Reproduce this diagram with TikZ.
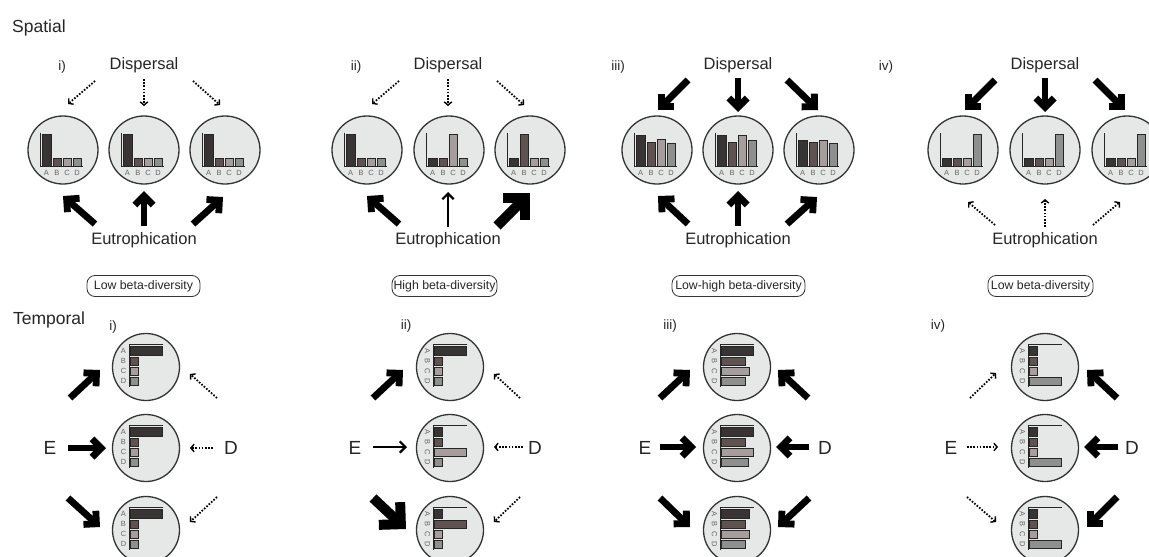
\documentclass[tikz,border=0pt]{standalone}
\usepackage{fontspec}
\setmainfont{Liberation Sans}
\usetikzlibrary{calc,arrows.meta,shapes.geometric}
\definecolor{cA}{HTML}{383434}
\definecolor{cB}{HTML}{5E5351}
\definecolor{cC}{HTML}{A59E9C}
\definecolor{cD}{HTML}{8F8F8F}
\definecolor{cfill}{HTML}{E6E7E7}
\definecolor{cline}{HTML}{333333}
\tikzset{
 scirc/.style={ellipse,draw=cline,fill=cfill,line width=1.3pt,minimum width=70pt,minimum height=68pt,inner sep=0pt},
 tcirc/.style={circle,draw=cline,fill=cfill,line width=1.3pt,minimum size=67pt,inner sep=0pt},
 bar/.style={draw=black!85,line width=0.8pt},
 axisline/.style={draw=black!85,line width=1.1pt},
 blbl/.style={font=\fontsize{7.5}{8}\selectfont,text=black!60,inner sep=0pt},
 bigtxt/.style={font=\fontsize{16.5}{19}\selectfont,text=black!85,inner sep=0pt},
 headtxt/.style={font=\fontsize{17.5}{20}\selectfont,text=black!85,inner sep=0pt},
 numtxt/.style={font=\fontsize{13.5}{15}\selectfont,text=black!85,inner sep=0pt},
 edtxt/.style={font=\fontsize{19}{22}\selectfont,text=black!85,inner sep=0pt},
 dotarrow/.style={line width=1.8pt,dash pattern=on 1.6pt off 1.6pt,-{Straight Barb[length=3.2pt,width=7.5pt,line width=1.4pt]}},
 betabox/.style={draw=black!80,rounded corners=8pt,line width=0.8pt,minimum height=21pt,inner sep=0pt,font=\fontsize{12.3}{14}\selectfont,text=black!85},
}
\newcommand\schart[6]{%
\begin{scope}[shift={(#1,#2)}]
\filldraw[bar,fill=cA] (-21,16) rectangle (-12,{16-#3});
\filldraw[bar,fill=cB] (-10,16) rectangle (-2,{16-#4});
\filldraw[bar,fill=cC] (0,16) rectangle (8,{16-#5});
\filldraw[bar,fill=cD] (10,16) rectangle (18,{16-#6});
\draw[axisline] (-22.5,-17) -- (-22.5,16.5) -- (20,16.5);
\node[blbl] at (-16.5,22.5) {A};
\node[blbl] at (-6,22.5) {B};
\node[blbl] at (4,22.5) {C};
\node[blbl] at (14,22.5) {D};
\end{scope}}
\newcommand\tchart[7]{%
\begin{scope}[shift={(#1,#2)}]
\filldraw[bar,fill=cA] (-16,-21) rectangle ({-16+#3},-12);
\filldraw[bar,fill=cB] (-16,-10) rectangle ({-16+#4},-2);
\filldraw[bar,fill=cC] (-16,0) rectangle ({-16+#5},8);
\filldraw[bar,fill=cD] (-16,10) rectangle ({-16+#6},18);
\draw[axisline] (17,-22.5) -- (-16.5,-22.5) -- (-16.5,20);
\node[blbl,rotate=#7] at (-22.5,-16.5) {A};
\node[blbl,rotate=#7] at (-22.5,-6) {B};
\node[blbl,rotate=#7] at (-22.5,4) {C};
\node[blbl,rotate=#7] at (-22.5,14) {D};
\end{scope}}
\newcommand\barrow[4]{%
\pgfmathsetmacro\bo{0.7071*#1}%
\coordinate (bt) at ($(#4)!\bo pt!(#3)$);
\draw[line width=#1pt] (#3) -- (bt);
\draw[line width=#1pt,line join=miter,miter limit=4] ($(bt)!#2pt!45:(#3)$) -- (bt) -- ($(bt)!#2pt!-45:(#3)$);
}
\begin{document}
\begin{tikzpicture}[x=1pt,y=-1pt]
\useasboundingbox[fill=white] (0,0) rectangle (1149,557);
% ---------- Spatial ----------
\node[headtxt] (spatial) at (39,28) {Spatial};
% panel i
\node[numtxt] (si) at (62,67) {i)};
\node[bigtxt] (sdi) at (144,65) {Dispersal};
\node[scirc] (s11) at (63,150) {};
\node[scirc] (s12) at (144,150) {};
\node[scirc] (s13) at (225,150) {};
\schart{63}{150}{32}{8}{8}{8}
\schart{144}{150}{32}{8}{8}{8}
\schart{225}{150}{32}{8}{8}{8}
\draw[dotarrow] (95,81) -- (68,104);
\draw[dotarrow] (144,79) -- (144,106);
\draw[dotarrow] (193,81) -- (220,105);
\barrow{6.8}{13}{95,224}{63,196}
\barrow{6.8}{13}{144,226}{144,191}
\barrow{6.8}{13}{193,224}{223,197}
\node[bigtxt] (sei) at (144,240) {Eutrophication};
\node[betabox,minimum width=113pt] (bi) at (143.5,286) {Low beta-diversity};
% panel ii
\node[numtxt] (sii) at (356,67) {ii)};
\node[bigtxt] (sdii) at (448,65) {Dispersal};
\node[scirc] (s21) at (367,150) {};
\node[scirc] (s22) at (449,150) {};
\node[scirc] (s23) at (530,150) {};
\schart{367}{150}{32}{8}{8}{8}
\schart{449}{150}{8}{8}{32}{8}
\schart{530}{150}{8}{32}{8}{8}
\draw[dotarrow] (399,81) -- (372,104);
\draw[dotarrow] (448,79) -- (448,106);
\draw[dotarrow] (497,81) -- (524,105);
\barrow{6.8}{13}{399,224}{367,196}
\barrow{2.2}{8}{448,227}{448,192}
\barrow{10}{22}{497,226}{530,193}
\node[bigtxt] (seii) at (448,240) {Eutrophication};
\node[betabox,minimum width=105pt] (bii) at (444.5,286) {High beta-diversity};
% panel iii
\node[numtxt] (siii) at (618,67) {iii)};
\node[bigtxt] (sdiii) at (738,65) {Dispersal};
\node[scirc] (s31) at (657,150) {};
\node[scirc] (s32) at (738,150) {};
\node[scirc] (s33) at (819,150) {};
\schart{657}{150}{31}{24}{27}{23}
\schart{738}{150}{31}{24}{31}{26}
\schart{819}{150}{26}{24}{26}{23}
\barrow{6.8}{13}{688,80}{658,110}
\barrow{6.8}{13}{738,78}{738,112}
\barrow{6.8}{13}{787,80}{818,110}
\barrow{6.8}{13}{688,224}{658,196}
\barrow{6.8}{13}{738,226}{738,191}
\barrow{6.8}{13}{787,224}{817,197}
\node[bigtxt] (seiii) at (738,240) {Eutrophication};
\node[betabox,minimum width=133pt] (biii) at (738.5,286) {Low-high beta-diversity};
% panel iv
\node[numtxt] (siv) at (886,67) {iv)};
\node[bigtxt] (sdiv) at (1045,65) {Dispersal};
\node[scirc] (s41) at (963,150) {};
\node[scirc] (s42) at (1045,150) {};
\node[scirc] (s43) at (1127,150) {};
\schart{963}{150}{8}{8}{8}{32}
\schart{1045}{150}{8}{8}{8}{32}
\schart{1127}{150}{8}{8}{8}{32}
\barrow{6.8}{13}{995,80}{965,110}
\barrow{6.8}{13}{1045,78}{1045,112}
\barrow{6.8}{13}{1095,80}{1125,110}
\draw[dotarrow] (995,225) -- (968,202);
\draw[dotarrow] (1045,227) -- (1045,199);
\draw[dotarrow] (1093,225) -- (1120,202);
\node[bigtxt] (seiv) at (1045,240) {Eutrophication};
\node[betabox,minimum width=105pt] (biv) at (1040.5,286) {Low beta-diversity};
% ---------- Temporal ----------
\node[headtxt] (temporal) at (49,320) {Temporal};
% panel i
\node[numtxt] (ti) at (113,327) {i)};
\node[tcirc] (t11) at (146,367) {};
\node[tcirc] (t12) at (146,448) {};
\node[tcirc] (t13) at (146,530) {};
\tchart{146}{367}{32}{8}{8}{8}{0}
\tchart{146}{448}{32}{8}{8}{8}{0}
\tchart{146}{530}{32}{8}{8}{8}{0}
\node[edtxt] (tei) at (50,448) {E};
\node[edtxt] (tdi) at (231,448) {D};
\barrow{6.8}{13}{70,398}{100,370}
\barrow{6.8}{13}{68,448}{106,448}
\barrow{6.8}{13}{68,498}{100,527}
\draw[dotarrow] (217,398) -- (190,374);
\draw[dotarrow] (213,448) -- (190,448);
\draw[dotarrow] (217,497) -- (190,522);
% panel ii
\node[numtxt] (tii) at (406,326) {ii)};
\node[tcirc] (t21) at (450,367) {};
\node[tcirc] (t22) at (450,448) {};
\node[tcirc] (t23) at (450,530) {};
\tchart{450}{367}{32}{8}{8}{8}{-90}
\tchart{450}{448}{8}{8}{32}{8}{-90}
\tchart{450}{530}{8}{32}{8}{8}{-90}
\node[edtxt] (teii) at (355,448) {E};
\node[edtxt] (tdii) at (535,448) {D};
\barrow{6.8}{13}{373,398}{403,370}
\barrow{2.2}{8}{373,447}{407,447}
\barrow{10}{22}{373,498}{406,529}
\draw[dotarrow] (520,398) -- (494,374);
\draw[dotarrow] (523,447) -- (494,447);
\draw[dotarrow] (520,497) -- (494,522);
% panel iii
\node[numtxt] (tiii) at (670,326) {iii)};
\node[tcirc] (t31) at (737,367) {};
\node[tcirc] (t32) at (737,448) {};
\node[tcirc] (t33) at (737,530) {};
\tchart{737}{367}{32}{24}{28}{24}{-90}
\tchart{737}{448}{32}{24}{32}{27}{-90}
\tchart{737}{530}{28}{24}{28}{24}{-90}
\node[edtxt] (teiii) at (645,448) {E};
\node[edtxt] (tdiii) at (825,448) {D};
\barrow{6.8}{13}{660,398}{690,370}
\barrow{6.8}{13}{808,398}{778,370}
\barrow{6.8}{13}{660,447}{696,447}
\barrow{6.8}{13}{809,447}{776,447}
\barrow{6.8}{13}{660,498}{690,527}
\barrow{6.8}{13}{809,498}{778,527}
% panel iv
\node[numtxt] (tiv) at (938,326) {iv)};
\node[tcirc] (t41) at (1045,367) {};
\node[tcirc] (t42) at (1045,448) {};
\node[tcirc] (t43) at (1045,530) {};
\tchart{1045}{367}{8}{8}{8}{32}{-90}
\tchart{1045}{448}{8}{8}{8}{32}{-90}
\tchart{1045}{530}{8}{8}{8}{32}{-90}
\node[edtxt] (teiv) at (951,448) {E};
\node[edtxt] (tdiv) at (1132,448) {D};
\draw[dotarrow] (970,398) -- (996,373);
\draw[dotarrow] (967,447) -- (998,447);
\draw[dotarrow] (967,497) -- (996,522);
\barrow{6.8}{13}{1117,398}{1087,370}
\barrow{6.8}{13}{1118,447}{1084,447}
\barrow{6.8}{13}{1117,497}{1087,527}
\end{tikzpicture}
\end{document}
